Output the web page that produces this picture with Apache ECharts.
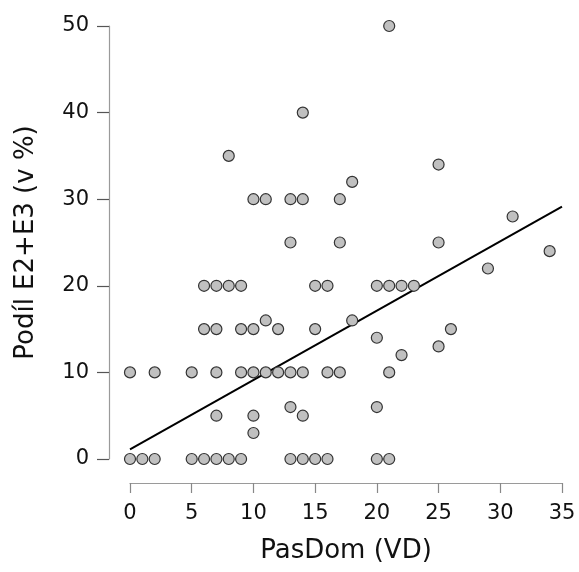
<!DOCTYPE html>
<html>
<head>
<meta charset="utf-8">
<script src="https://cdn.jsdelivr.net/npm/echarts@6/dist/echarts.min.js"></script>
<style>
  html, body { margin: 0; padding: 0; background: #fff; }
  #chart { width: 579px; height: 572px; }
</style>
</head>
<body>
<div id="chart"></div>
<script>
// PasDom (VD) for each observation
const pasDom = [
  0, 1, 2, 5, 6, 7, 8, 9, 13, 14, 15, 16, 20, 21,
  0, 2, 5, 7, 9, 10, 11, 12, 13, 14, 16, 17, 21,
  6, 7, 9, 10, 12, 15, 26,
  11, 18,
  6, 7, 8, 9, 15, 16, 20, 21, 22, 23,
  13, 17, 25,
  10, 11, 13, 14, 17,
  7, 10, 14,
  10,
  13, 20,
  20, 22, 25, 29, 34, 31, 18, 25, 8, 14, 21
];

// Podíl E2+E3 (v %) for the same observations
const podil = [
  0, 0, 0, 0, 0, 0, 0, 0, 0, 0, 0, 0, 0, 0,
  10, 10, 10, 10, 10, 10, 10, 10, 10, 10, 10, 10, 10,
  15, 15, 15, 15, 15, 15, 15,
  16, 16,
  20, 20, 20, 20, 20, 20, 20, 20, 20, 20,
  25, 25, 25,
  30, 30, 30, 30, 30,
  5, 5, 5,
  3,
  6, 6,
  14, 12, 13, 22, 24, 28, 32, 34, 35, 40, 50
];

// Trend line end points
const fitX = [0, 35];
const fitY = [1.12, 29.13];

// Axis ticks
const xTicks = [0, 5, 10, 15, 20, 25, 30, 35];
const yTicks = [0, 10, 20, 30, 40, 50];

const points = pasDom.map((x, i) => [x, podil[i]]);
const fitLine = fitX.map((x, i) => [x, fitY[i]]);

const font = '"DejaVu Sans", Verdana, sans-serif';
const chart = echarts.init(document.getElementById('chart'), null, { renderer: 'canvas' });

chart.setOption({
  animation: false,
  backgroundColor: '#ffffff',
  grid: { left: 130, right: 17, top: 26, bottom: 113, containLabel: false },
  xAxis: {
    type: 'value',
    min: xTicks[0],
    max: xTicks[xTicks.length - 1],
    interval: 5,
    offset: 24,
    name: 'PasDom (VD)',
    nameLocation: 'middle',
    nameGap: 55,
    nameTextStyle: { fontFamily: font, fontSize: 26, color: '#111' },
    axisLine: { show: true, onZero: false, lineStyle: { color: '#9a9a9a', width: 1.2 } },
    axisTick: { show: true, length: 10, lineStyle: { color: '#888', width: 1.2 } },
    axisLabel: { margin: 20, fontFamily: font, fontSize: 21, color: '#111' },
    splitLine: { show: false }
  },
  yAxis: {
    type: 'value',
    min: yTicks[0],
    max: yTicks[yTicks.length - 1],
    interval: 10,
    offset: 21,
    name: 'Podíl E2+E3 (v %)',
    nameLocation: 'middle',
    nameGap: 70,
    nameRotate: 90,
    nameTextStyle: { fontFamily: font, fontSize: 26, color: '#111' },
    axisLine: { show: true, onZero: false, lineStyle: { color: '#9a9a9a', width: 1.2 } },
    axisTick: { show: true, length: 12, lineStyle: { color: '#555', width: 1.2 } },
    axisLabel: { margin: 20, fontFamily: font, fontSize: 21, color: '#111' },
    splitLine: { show: false }
  },
  series: [
    {
      type: 'line',
      data: fitLine,
      showSymbol: false,
      lineStyle: { color: '#000', width: 2 },
      z: 3
    },
    {
      type: 'scatter',
      data: points,
      symbol: 'circle',
      symbolSize: 11,
      itemStyle: { color: '#c0c0c0', borderColor: '#333', borderWidth: 1.2, opacity: 1 },
      z: 4
    }
  ]
});
</script>
</body>
</html>
